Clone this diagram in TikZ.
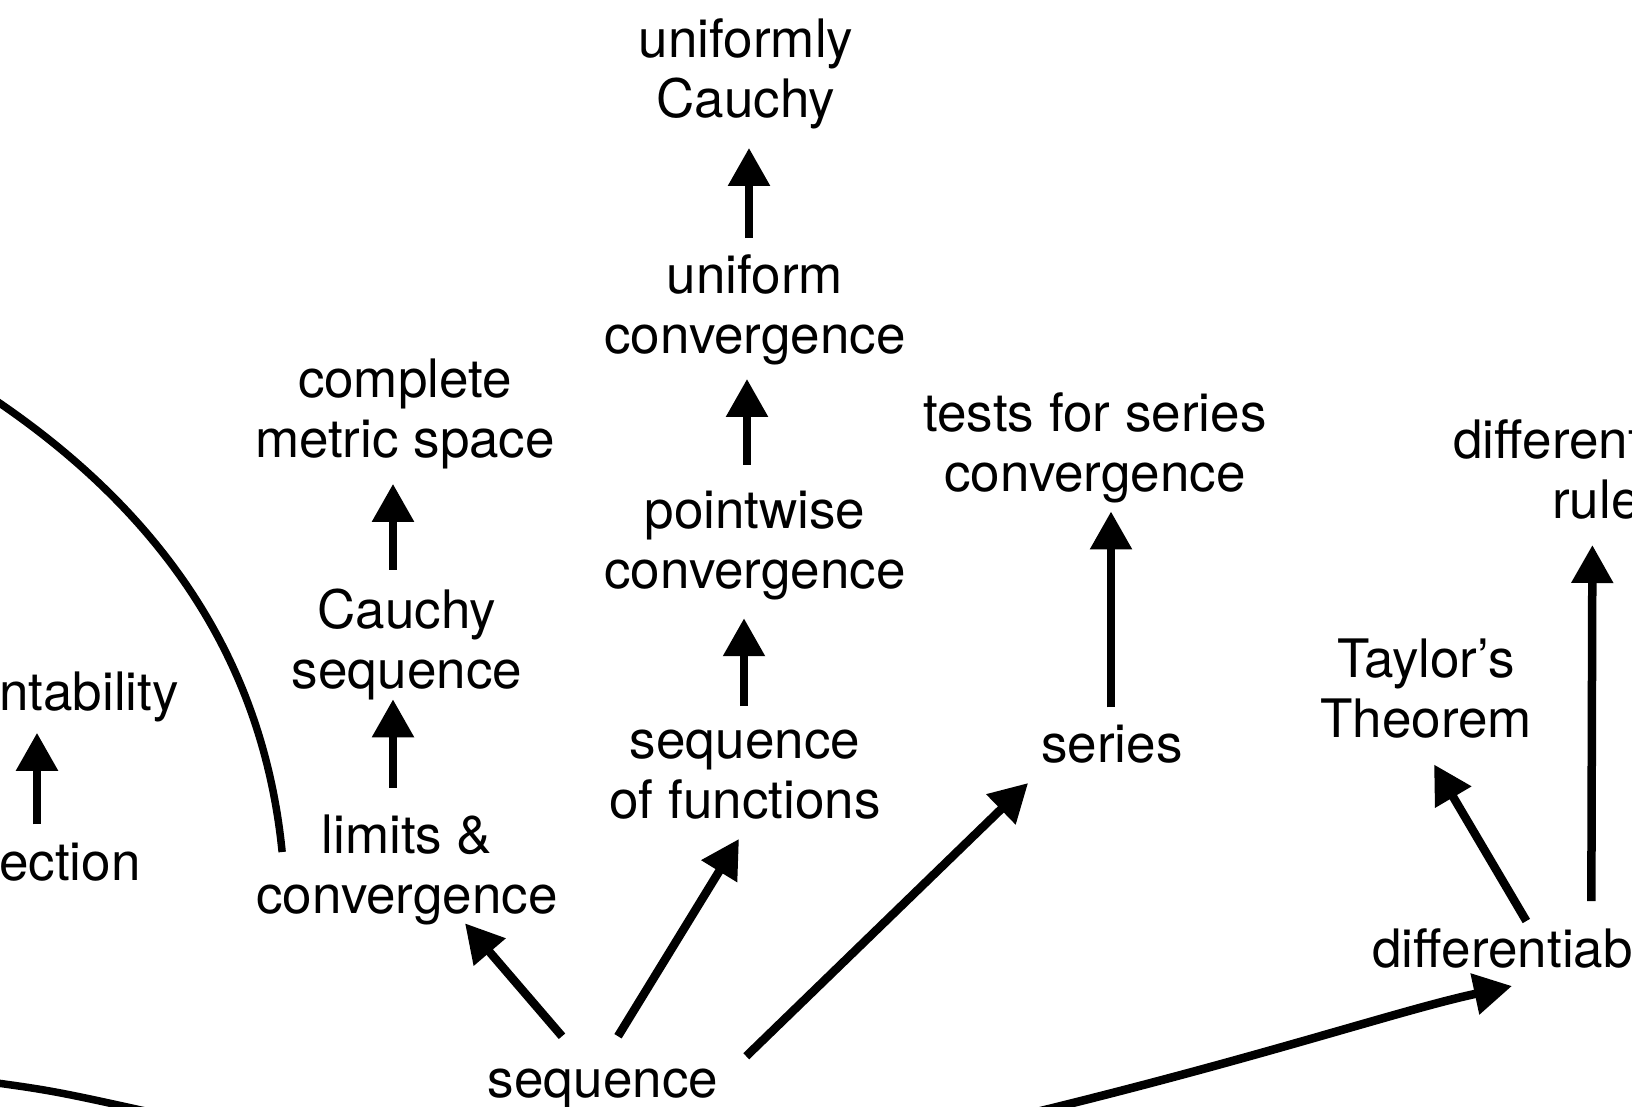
\documentclass[tikz,border=0pt]{standalone}
\usepackage{fontspec}
\setmainfont{TeX Gyre Heros}
\usetikzlibrary{arrows.meta,positioning}

\begin{document}
\begin{tikzpicture}[
    x=1pt, y=-1pt,
    concept/.style={align=center, inner sep=0pt, font=\fontsize{53}{60}\selectfont},
    link/.style={-{Triangle[length=38pt,width=40pt]}, line width=8.5pt},
    arcline/.style={line width=7.5pt}
]
\useasboundingbox (0,0) rectangle (1632,1106);
\clip (0,0) rectangle (1632,1106);

\node[concept] (ucauchy) at (746,73.5) {uniformly\\Cauchy};
\node[concept] (uconv) at (755,310) {uniform\\convergence};
\node[concept] (pconv) at (755,546) {pointwise\\convergence};
\node[concept] (seqfun) at (745,774.5) {sequence\\of functions};
\node[concept] (complete) at (405,414) {complete\\metric space};
\node[concept] (cauchyseq) at (407,644) {Cauchy\\sequence};
\node[concept] (limits) at (407,870) {limits \&\\convergence};
\node[concept] (tests) at (1095,447.5) {tests for series\\convergence};
\node[concept, anchor=base] (series) at (1112,762.5) {series};
\node[concept] (taylor) at (1426,689) {Taylor’s\\Theorem};
\node[concept, anchor=base] (seq) at (603,1097.5) {sequence};
\node[concept, anchor=base west] (countab) at (-1,710) {ntability};
\node[concept, anchor=base west] (bij) at (-1,880) {ection};
\node[concept, anchor=base west] (diffrul) at (1453,458) {different};
\node[concept, anchor=base west] (rules) at (1552,518) {rule};
\node[concept, anchor=base west] (diffable) at (1372,967) {differentiabl};

\coordinate (offnw) at (-20,390);
\coordinate (offsw) at (-40,1078);
\coordinate (offs) at (150,1112);
\coordinate (offse) at (1020,1116);

\draw[link] ([shift={(-6,-16.5)}]uconv.north) -- ([shift={(3,19)}]ucauchy.south);
\draw[link] ([shift={(-8,-26.5)}]pconv.north) -- ([shift={(-8,13.5)}]uconv.south);
\draw[link] ([shift={(-1,-23.5)}]seqfun.north) -- ([shift={(-11,17.5)}]pconv.south);
\draw[link] ([shift={(-14,-18.5)}]cauchyseq.north) -- ([shift={(-12,14.5)}]complete.south);
\draw[link] ([shift={(-14,-27)}]limits.north) -- ([shift={(-14,-0.5)}]cauchyseq.south);
\draw[link] ([shift={(-1,-17.5)}]series.north) -- ([shift={(16,8.5)}]tests.south);
\draw[link] ([shift={(83,-27)}]diffable.north) -- ([shift={(-4,26)}]rules.south);
\draw[link] ([shift={(18,-7)}]diffable.north) -- ([shift={(8,25.5)}]taylor.south);
\draw[link] ([shift={(-41,-32.5)}]seq.north) -- ([shift={(58,-2)}]limits.south);
\draw[link] ([shift={(15,-32.5)}]seq.north) -- ([shift={(-6,19.5)}]seqfun.south);
\draw[link] ([shift={(28,-12.5)}]seq.north east) -- ([shift={(-13,19.5)}]series.south west);
\draw[link] ([shift={(38,-18)}]bij.north west) -- ([shift={(38,11)}]countab.south west);

\draw[arcline] ([shift={(26,-18)}]limits.west) .. controls (265,680) and (180,520) .. (offnw);
\draw[arcline] (offsw) .. controls (50,1090) .. (offs);
\draw[link] (offse) .. controls (1260,1058) and (1400,1010) .. ([shift={(140,18)}]diffable.south west);

\end{tikzpicture}
\end{document}
